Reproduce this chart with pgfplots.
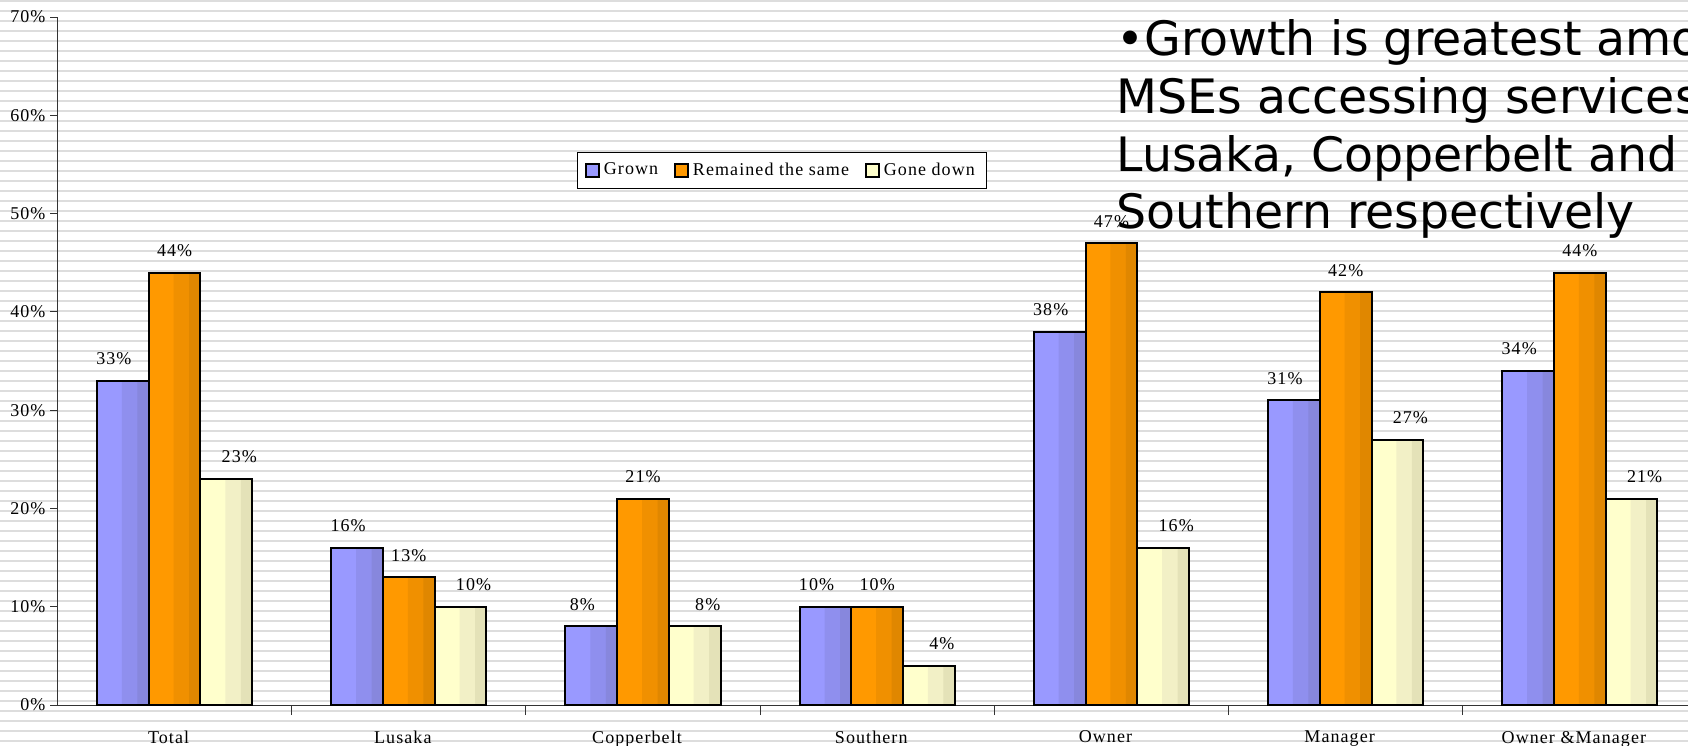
\documentclass[border=0pt]{standalone}
\usepackage{fontspec}
\setmainfont{Liberation Serif}[LetterSpace=6]
\newfontfamily\boxfont{DejaVu Sans}
\usepackage{pgfplots}
\pgfplotsset{compat=1.18}
\definecolor{gAl}{HTML}{9999FF}
\definecolor{gAm}{HTML}{8F8FEE}
\definecolor{gAd}{HTML}{8787DD}
\definecolor{gBl}{HTML}{FF9900}
\definecolor{gBm}{HTML}{F09000}
\definecolor{gBd}{HTML}{E08700}
\definecolor{gCl}{HTML}{FFFFCC}
\definecolor{gCm}{HTML}{F2F0C6}
\definecolor{gCd}{HTML}{E4E2B8}
\definecolor{stripe}{HTML}{DDDDDD}

\pgfplotstableread{
x grown same down
0 33 44 23
1 16 13 10
2 8 21 8
3 10 10 4
4 38 47 16
5 31 42 27
6 34 44 21
}\datatable

\pgfplotsset{
  mainbar/.style={draw=black, line width=1pt, bar width=0.2208,
    nodes near coords={\pgfmathprintnumber{\pgfplotspointmeta}\%}},
  midbar/.style={forget plot, draw=none, bar width=0.1148},
  darkbar/.style={forget plot, draw=none, bar width=0.0486},
  outbar/.style={forget plot, draw=black, fill=none, line width=1pt, bar width=0.2208},
}

\begin{document}
\begin{tikzpicture}
% striped slide background
\foreach \k in {0,...,75} {
  \draw[stripe, line width=1.1pt] (-28.75pt,{352pt-5pt*\k}) -- (815.25pt,{352pt-5pt*\k});
}
\begin{axis}[
  at={(0,0)}, anchor=south west,
  scale only axis, width=819.75pt, height=344pt,
  xmin=-0.5, xmax=6.5, ymin=0, ymax=70,
  axis x line*=bottom, axis y line*=left,
  axis line style={black!80, line width=0.5pt, -},
  ybar,
  xtick={0,...,6},
  xticklabels={Total,Lusaka,Copperbelt,Southern,Owner,Manager,Owner \&Manager},
  minor xtick={0.5,1.5,...,5.5},
  major x tick style={draw=none},
  minor x tick style={black!80, line width=0.5pt},
  minor tick length=5pt,
  ytick={0,10,...,70},
  yticklabel={\pgfmathprintnumber{\tick}\%},
  y tick style={black!80, line width=0.5pt},
  major tick length=3.5pt,
  tick align=outside,
  tick label style={font=\fontsize{9}{11}\selectfont},
  yticklabel style={/pgf/number format/assume math mode=true, xshift=1pt},
  xticklabel style={yshift=-6pt, xshift=-3pt},
  every node near coord/.append style={font=\fontsize{9}{11}\selectfont, anchor=base, inner sep=0pt, yshift=8pt, /pgf/number format/assume math mode=true},
  legend style={at={(0.4419,0.777)}, anchor=center, draw=black, line width=0.5pt, fill=white,
    legend columns=3, font=\fontsize{9}{11}\selectfont,
    /tikz/every even column/.append style={column sep=6pt},
    inner xsep=4pt, inner ysep=3pt},
  legend image code/.code={\draw[#1, line width=1pt] (0pt,-3.2pt) rectangle (6.4pt,3.2pt);},
  clip=false,
]
% Grown
\addplot[mainbar, fill=gAl, bar shift=-0.2208,
  every node near coord/.append style={xshift=-4.5pt}] table[x=x, y=grown] {\datatable};
\addplot[midbar, fill=gAm, bar shift=-0.1678] table[x=x, y=grown] {\datatable};
\addplot[darkbar, fill=gAd, bar shift=-0.1347] table[x=x, y=grown] {\datatable};
\addplot[outbar, bar shift=-0.2208] table[x=x, y=grown] {\datatable};
% Remained the same
\addplot[mainbar, fill=gBl, bar shift=0] table[x=x, y=same] {\datatable};
\addplot[midbar, fill=gBm, bar shift=0.0530] table[x=x, y=same] {\datatable};
\addplot[darkbar, fill=gBd, bar shift=0.0861] table[x=x, y=same] {\datatable};
\addplot[outbar, bar shift=0] table[x=x, y=same] {\datatable};
% Gone down
\addplot[mainbar, fill=gCl, bar shift=0.2208,
  every node near coord/.append style={xshift=6.5pt}] table[x=x, y=down] {\datatable};
\addplot[midbar, fill=gCm, bar shift=0.2738] table[x=x, y=down] {\datatable};
\addplot[darkbar, fill=gCd, bar shift=0.3069] table[x=x, y=down] {\datatable};
\addplot[outbar, bar shift=0.2208] table[x=x, y=down] {\datatable};
\legend{Grown, Remained the same, Gone down}
\end{axis}
\node[anchor=base west, align=left, inner sep=0pt, font=\boxfont\fontsize{23.7}{28.9}\selectfont]
  at (529.25pt,238pt) {\textbullet Growth is greatest among\\MSEs accessing services in\\Lusaka, Copperbelt and\\Southern respectively};
\pgfresetboundingbox
\useasboundingbox (-28.75pt,-20pt) rectangle (815.25pt,352.5pt);
\end{tikzpicture}
\end{document}
